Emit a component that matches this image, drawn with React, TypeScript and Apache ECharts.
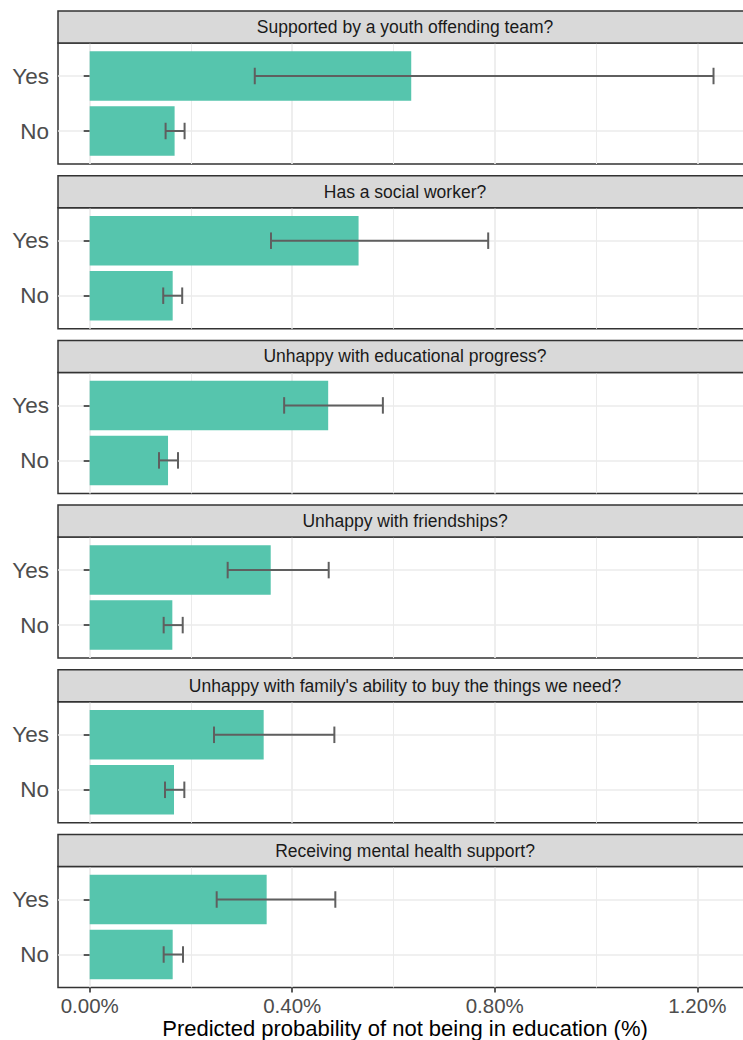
import React, { useEffect, useRef } from "react";
import * as echarts from "echarts";

// ---- Data (values in %) ----
const facetTitles = [
  "Supported by a youth offending team?",
  "Has a social worker?",
  "Unhappy with educational progress?",
  "Unhappy with friendships?",
  "Unhappy with family's ability to buy the things we need?",
  "Receiving mental health support?",
];
const groups = ["No", "Yes"];
const yesEstimate = [0.635, 0.531, 0.471, 0.3575, 0.3436, 0.3495];
const yesLower = [0.326, 0.358, 0.384, 0.2725, 0.2455, 0.2508];
const yesUpper = [1.232, 0.787, 0.579, 0.472, 0.4832, 0.4851];
const noEstimate = [0.1677, 0.1639, 0.1547, 0.1632, 0.1665, 0.1639];
const noLower = [0.1499, 0.1452, 0.1369, 0.1461, 0.1487, 0.1461];
const noUpper = [0.1874, 0.1827, 0.1744, 0.1837, 0.1869, 0.1843];
const xTicks = [0, 0.4, 0.8, 1.2];
const xMinorTicks = [0.2, 0.6, 1.0];
const xTitle = "Predicted probability of not being in education (%)";

// ---- Layout / style ----
const FONT = "'Liberation Sans', Arial, sans-serif";
const LEFT = 58;
const PANEL_W = 694;
const FIRST_TOP = 11;
const PITCH = 164.7;
const STRIP_H = 32;
const PLOT_H = 121;
const X_MIN = -0.0626;
const X_MAX = 1.308;
const BAR_COLOR = "#56C5AD";
const ERR_COLOR = "#5F5F5F";
const GRID_COLOR = "#EBEBEB";
const BORDER = "#333333";

export default function App() {
  const ref = useRef<HTMLDivElement>(null);

  useEffect(() => {
    if (!ref.current) return;
    const chart = echarts.init(ref.current, null, { renderer: "svg" });

    const grids: any[] = [];
    const xAxes: any[] = [];
    const yAxes: any[] = [];
    const series: any[] = [];
    const graphics: any[] = [];
    const n = facetTitles.length;

    facetTitles.forEach((title, i) => {
      const stripTop = FIRST_TOP + i * PITCH;
      const isLast = i === n - 1;
      grids.push({
        left: LEFT,
        top: stripTop + STRIP_H,
        width: PANEL_W,
        height: PLOT_H,
        show: true,
        containLabel: false,
        outerBoundsMode: "none",
        backgroundColor: "#ffffff",
        borderColor: BORDER,
        borderWidth: 1.5,
      });
      // major x axis
      xAxes.push({
        type: "value",
        gridIndex: i,
        min: X_MIN,
        max: X_MAX,
        position: "bottom",
        axisLine: { show: false },
        axisTick: {
          show: isLast,
          customValues: xTicks,
          length: 5,
          lineStyle: { color: BORDER, width: 1.6 },
        },
        axisLabel: {
          show: isLast,
          customValues: xTicks,
          formatter: (v: number) => v.toFixed(2) + "%",
          fontSize: 20.5,
          color: "#4D4D4D",
          fontFamily: FONT,
          margin: 7,
        },
        splitLine: { show: true, lineStyle: { color: GRID_COLOR, width: 1.7 } },
      });
      // minor x axis (grid lines only)
      xAxes.push({
        type: "value",
        gridIndex: i,
        min: X_MIN,
        max: X_MAX,
        position: "top",
        axisLine: { show: false },
        axisTick: { show: false, customValues: xMinorTicks },
        axisLabel: { show: false, customValues: xMinorTicks },
        splitLine: { show: true, lineStyle: { color: GRID_COLOR, width: 1 } },
      });
      yAxes.push({
        type: "value",
        gridIndex: i,
        min: 0.4,
        max: 2.6,
        axisLine: { show: false },
        axisTick: {
          show: true,
          customValues: [1, 2],
          length: 6,
          lineStyle: { color: BORDER, width: 1.6 },
        },
        axisLabel: {
          customValues: [1, 2],
          formatter: (v: number) => groups[Math.round(v) - 1] || "",
          fontSize: 22.5,
          color: "#4D4D4D",
          fontFamily: FONT,
          margin: 9,
        },
        splitLine: { show: true, lineStyle: { color: GRID_COLOR, width: 1.7 } },
      });

      series.push({
        type: "custom",
        xAxisIndex: i * 2,
        yAxisIndex: i,
        z: 2,
        data: [
          [1, noEstimate[i]],
          [2, yesEstimate[i]],
        ],
        encode: { x: 1, y: 0 },
        renderItem: (params: any, api: any) => {
          const y = api.value(0);
          const v = api.value(1);
          const p0 = api.coord([0, y]);
          const p1 = api.coord([v, y]);
          const h = api.size([0, 0.9])[1];
          return {
            type: "rect",
            shape: { x: p0[0], y: p0[1] - h / 2, width: p1[0] - p0[0], height: h },
            style: { fill: BAR_COLOR },
          };
        },
      });
      series.push({
        type: "custom",
        xAxisIndex: i * 2,
        yAxisIndex: i,
        z: 3,
        data: [
          [1, noLower[i], noUpper[i]],
          [2, yesLower[i], yesUpper[i]],
        ],
        encode: { x: [1, 2], y: 0 },
        renderItem: (params: any, api: any) => {
          const y = api.value(0);
          const a = api.coord([api.value(1), y]);
          const b = api.coord([api.value(2), y]);
          const hh = api.size([0, 0.3])[1] / 2;
          const style = { stroke: ERR_COLOR, lineWidth: 2, fill: "none" };
          return {
            type: "group",
            children: [
              { type: "line", shape: { x1: a[0], y1: a[1], x2: b[0], y2: b[1] }, style },
              { type: "line", shape: { x1: a[0], y1: a[1] - hh, x2: a[0], y2: a[1] + hh }, style },
              { type: "line", shape: { x1: b[0], y1: b[1] - hh, x2: b[0], y2: b[1] + hh }, style },
            ],
          };
        },
      });

      graphics.push({
        type: "rect",
        z: 10,
        shape: { x: LEFT, y: stripTop, width: PANEL_W, height: STRIP_H },
        style: { fill: "#D9D9D9", stroke: BORDER, lineWidth: 1.5 },
      });
      graphics.push({
        type: "text",
        z: 11,
        x: LEFT + PANEL_W / 2,
        y: stripTop + STRIP_H / 2,
        style: {
          text: title,
          fontSize: 17.5,
          fontFamily: FONT,
          fill: "#1A1A1A",
          align: "center",
          verticalAlign: "middle",
        },
      });
    });

    graphics.push({
      type: "text",
      z: 11,
      x: LEFT + PANEL_W / 2,
      y: 1028,
      style: {
        text: xTitle,
        fontSize: 22,
        fontFamily: FONT,
        fill: "#000000",
        align: "center",
        verticalAlign: "middle",
      },
    });

    chart.setOption({
      animation: false,
      backgroundColor: "#ffffff",
      grid: grids,
      xAxis: xAxes,
      yAxis: yAxes,
      series,
      graphic: graphics,
    });

    return () => chart.dispose();
  }, []);

  return (
    <div
      ref={ref}
      style={{ position: "absolute", left: 0, top: 0, width: 743, height: 1040 }}
    />
  );
}
